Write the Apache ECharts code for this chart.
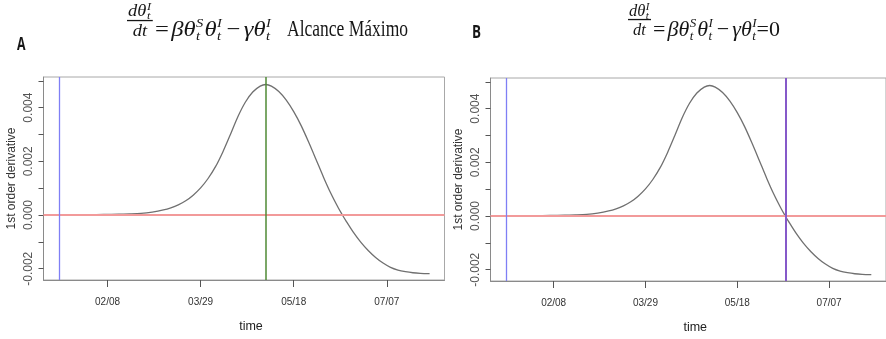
<!DOCTYPE html>
<html>
<head>
<meta charset="utf-8">
<script src="https://cdn.jsdelivr.net/npm/echarts@6/dist/echarts.min.js"></script>
<style>html,body{margin:0;padding:0;background:#fff;}#c{width:886px;height:339px;}</style>
</head>
<body>
<div id="c"></div>
<script>
// ---- data (day of year 2020, Jan 1 = 0) ----
const days = [12, 20, 28, 36, 44, 50, 56, 62, 68, 72, 76, 80, 84, 88, 92, 96, 100, 104, 108, 112, 116, 120, 123, 126, 130, 134, 138, 142, 146, 150, 154, 158, 162, 164, 166, 170, 174, 178, 182, 186, 190, 194, 198, 202, 206, 211];
const deriv = [0.0, 0.000005, 0.00001, 0.00002, 0.00003, 0.00004, 0.00006, 0.00011, 0.00019, 0.00027, 0.00038, 0.00053, 0.00074, 0.00101, 0.00136, 0.00180, 0.00236, 0.00300, 0.00366, 0.00420, 0.00458, 0.00480, 0.00486, 0.00480, 0.00460, 0.00428, 0.00385, 0.00333, 0.00272, 0.00207, 0.00141, 0.00080, 0.00026, 0.00002, -0.00021, -0.00064, -0.00101, -0.00132, -0.00158, -0.00179, -0.00195, -0.00205, -0.00211, -0.00215, -0.00217, -0.00218];
const tickDays = [38, 88, 138, 188];
const tickLabels = ['02/08', '03/29', '05/18', '07/07'];
const yTickValues = [-0.002, -0.001, 0, 0.001, 0.002, 0.003, 0.004, 0.005];
const yLabelValues = [-0.002, 0, 0.002, 0.004];
const startDay = 12.1;
const peakDay = 123;
const zeroDay = 164.2;
const xName = 'time';
const yName = '1st order derivative';
const panelLetters = ['A', 'B'];
const extraText = 'Alcance Máximo';

const points = days.map((d, i) => [d, deriv[i]]);

// ---- text measuring ----
const mctx = document.createElement('canvas').getContext('2d');
function tw(t, font) { mctx.font = font; return mctx.measureText(t).width; }
const it = s => 'italic ' + s + 'px "Liberation Serif"';
const up = s => s + 'px "Liberation Serif"';
const INK = '#161616';

function buildEq(x0, x1, base, barY, numBase, denBase, withZero) {
  const M = 22, S = 13, F = 16.5, FS = 11;
  const ch = [];
  const add = (t, font, size, x, baseline) => ch.push({
    type: 'text', x: x, y: baseline - 0.305 * size,
    style: { text: t, font: font, fill: INK, textAlign: 'left', textVerticalAlign: 'middle' }
  });
  const wdθ = tw('dθ', it(F));
  const numW = wdθ + Math.max(tw('I', it(FS)), tw('t', it(FS))) + 1;
  const denW = tw('dt', it(F));
  const fracW = Math.max(numW, denW) + 2;
  const nx = (fracW - numW) / 2;
  add('dθ', it(F), F, nx, numBase);
  add('I', it(FS), FS, nx + wdθ + 0.5, numBase - 6.5);
  add('t', it(FS), FS, nx + wdθ + 0.5, numBase + 3);
  add('dt', it(F), F, (fracW - denW) / 2, denBase);
  ch.push({ type: 'rect', shape: { x: 0, y: barY - 0.6, width: fracW, height: 1.3 }, style: { fill: INK } });
  let x = fracW + 2;
  add('=', up(M), M, x, base); x += tw('=', up(M)) + 2;
  const theta = (sup) => {
    add('θ', it(M), M, x, base); x += tw('θ', it(M)) + 0.5;
    add(sup, it(S), S, x, base - 8.5);
    add('t', it(S), S, x, base + 4);
    x += Math.max(tw(sup, it(S)), tw('t', it(S))) + 1;
  };
  add('β', it(M), M, x, base); x += tw('β', it(M));
  theta('S');
  theta('I');
  x += 3; add('−', up(M), M, x, base); x += tw('−', up(M)) + 3;
  add('γ', it(M), M, x, base); x += tw('γ', it(M));
  theta('I');
  if (withZero) { add('=0', up(M), M, x - 1, base); x += tw('=0', up(M)) - 1; }
  return { type: 'group', x: x0, y: 0, scaleX: (x1 - x0) / x, children: ch };
}

function fitText(t, font, size, xLeft, xRight, baseline, weight) {
  const f = (weight ? weight + ' ' : '') + font;
  const w = tw(t, f);
  return {
    type: 'text', x: xLeft, y: baseline - 0.305 * size, scaleX: (xRight - xLeft) / w,
    style: { text: t, font: f, fill: INK, textAlign: 'left', textVerticalAlign: 'middle' }
  };
}

const graphics = [];
graphics.push(fitText(panelLetters[0], '17px "Open Sans"', 17, 17, 25.5, 50, 'bold'));
graphics.push(fitText(panelLetters[1], '17px "Open Sans"', 17, 472, 481, 38.5, 'bold'));
graphics.push(buildEq(127, 272, 36.5, 20.5, 16.5, 37, false));
graphics.push(buildEq(628, 780, 36.5, 19.5, 16.5, 36, true));
graphics.push(fitText(extraText, up(23), 23, 287, 408, 36.5));

const AX = '#8a8a8a';
function xAxisCfg(gi) {
  return {
    type: 'value', gridIndex: gi, min: 3.6, max: 219,
    name: xName, nameLocation: 'middle', nameGap: 40,
    nameTextStyle: { fontFamily: '"Liberation Sans"', fontSize: 12.5, color: '#222', padding: [0, 0, 0, 14] },
    axisLine: { show: true, onZero: false, lineStyle: { color: AX, width: 1 } },
    axisTick: { show: true, length: 7, customValues: tickDays, lineStyle: { color: '#555' } },
    axisLabel: {
      customValues: tickDays, margin: 17, fontSize: 10, color: '#333',
      fontFamily: '"Liberation Sans"',
      formatter: v => { const k = tickDays.indexOf(v); return k >= 0 ? tickLabels[k] : ''; }
    },
    splitLine: { show: false }
  };
}
function yAxisCfg(gi) {
  return {
    type: 'value', gridIndex: gi, min: -0.00242, max: 0.00514,
    name: yName, nameLocation: 'middle', nameGap: 26,
    nameTextStyle: { fontFamily: '"Liberation Sans"', fontSize: 12, color: '#333' },
    axisLine: { show: true, onZero: false, lineStyle: { color: AX, width: 1 } },
    axisTick: { show: true, length: 5, customValues: yTickValues, lineStyle: { color: '#555' } },
    axisLabel: {
      customValues: yLabelValues, rotate: 90, margin: 9, fontSize: 12, color: '#555',
      fontFamily: '"Liberation Sans"',
      formatter: v => v.toFixed(3)
    },
    splitLine: { show: false }
  };
}
function curveSeries(gi, marks) {
  return {
    type: 'line', xAxisIndex: gi, yAxisIndex: gi, data: points, smooth: 0.3,
    showSymbol: false, symbol: 'none', silent: true, z: 3,
    lineStyle: { color: '#707070', width: 1.3 },
    markLine: { silent: true, symbol: 'none', label: { show: false }, animation: false, data: marks }
  };
}
const zeroMark = { yAxis: 0, lineStyle: { color: '#f29a9a', width: 2, type: 'solid' } };
const startMark = { xAxis: startDay, lineStyle: { color: '#7f7ff5', width: 1.3, type: 'solid' } };

const chart = echarts.init(document.getElementById('c'), null, { renderer: 'canvas' });
chart.setOption({
  animation: false,
  backgroundColor: '#fff',
  grid: [
    { left: 43.5, top: 77, width: 401, height: 203, show: true, borderColor: '#a8a8a8', borderWidth: 1, containLabel: false },
    { left: 490.5, top: 78, width: 400.5, height: 204, show: true, borderColor: '#a8a8a8', borderWidth: 1, containLabel: false }
  ],
  xAxis: [xAxisCfg(0), xAxisCfg(1)],
  yAxis: [yAxisCfg(0), yAxisCfg(1)],
  series: [
    curveSeries(0, [zeroMark, startMark, { xAxis: peakDay, lineStyle: { color: '#4f8a35', width: 1.5, type: 'solid' } }]),
    curveSeries(1, [zeroMark, startMark, { xAxis: zeroDay, lineStyle: { color: '#8659c9', width: 2, type: 'solid' } }])
  ],
  graphic: graphics
});
</script>
</body>
</html>
